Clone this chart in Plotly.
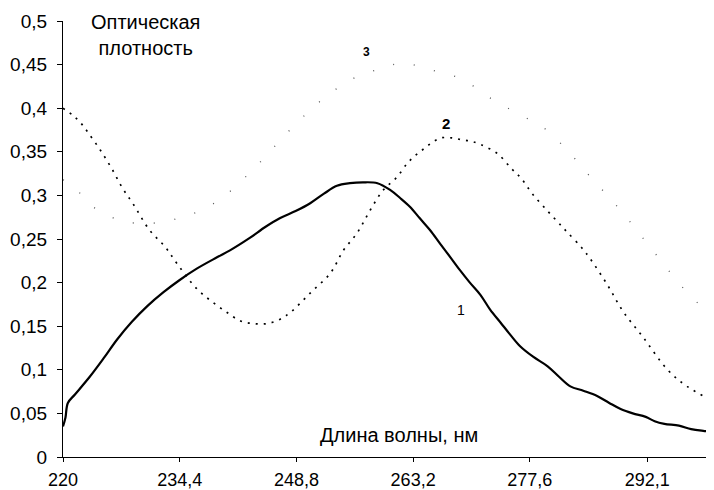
import plotly.graph_objects as go

# Curve 1 (solid)
wl1 = [220.0, 220.3, 220.6, 221.5, 223.3, 225.0, 226.7, 228.5, 230.4, 232.4, 234.4, 236.5, 239.0,
       240.6, 243.0, 245.0, 246.8, 248.7, 250.5, 252.2, 253.8, 255.4, 257.0, 258.8, 260.4, 261.6,
       262.8, 264.0, 265.3, 266.5, 267.8, 269.0, 270.2, 271.5, 272.7, 274.0, 275.2, 276.4, 278.0,
       279.8, 281.2, 282.6, 284.2, 285.9, 287.4, 288.8, 290.3, 291.9, 293.0, 294.2, 296.0, 297.5,
       299.0, 300.2]
od1 = [0.035, 0.045, 0.062, 0.072, 0.092, 0.113, 0.135, 0.155, 0.173, 0.189, 0.203, 0.216, 0.229,
       0.237, 0.251, 0.264, 0.274, 0.282, 0.291, 0.302, 0.311, 0.314, 0.315, 0.314, 0.306, 0.297,
       0.287, 0.274, 0.260, 0.245, 0.229, 0.214, 0.200, 0.186, 0.169, 0.154, 0.140, 0.127, 0.115,
       0.104, 0.092, 0.081, 0.076, 0.070, 0.062, 0.055, 0.050, 0.046, 0.041, 0.038, 0.036, 0.032,
       0.030, 0.029]

# Curve 2 (dotted)
wl2 = [220.0, 221.2, 222.2, 223.1, 224.6, 226.0, 227.3, 228.6, 230.7, 232.6, 234.2, 236.5, 238.4,
       240.2, 241.9, 243.5, 245.2, 246.8, 248.2, 250.5, 253.0, 254.6, 256.3, 257.9, 259.5, 261.2,
       262.5, 263.5, 264.6, 265.6, 266.7, 267.9, 269.1, 270.4, 271.6, 273.6, 275.3, 276.5, 277.9,
       279.8, 281.4, 282.2, 284.0, 285.0, 287.2, 289.1, 291.6, 294.6, 297.0, 300.2]
od2 = [0.400, 0.392, 0.383, 0.372, 0.352, 0.331, 0.309, 0.291, 0.260, 0.241, 0.220, 0.193, 0.178,
       0.166, 0.156, 0.153, 0.153, 0.158, 0.167, 0.188, 0.211, 0.237, 0.257, 0.283, 0.306, 0.321,
       0.337, 0.346, 0.354, 0.361, 0.366, 0.366, 0.364, 0.362, 0.358, 0.348, 0.331, 0.320, 0.302,
       0.282, 0.266, 0.258, 0.240, 0.228, 0.197, 0.167, 0.137, 0.100, 0.081, 0.064]

# Curve 3 (faint, sparse dots)
wl3 = [220.0, 221.5, 223.7, 225.8, 227.4, 230.0, 232.8, 234.8, 236.9, 240.0, 244.0, 248.0, 252.0,
       256.0, 259.9, 261.7, 264.0, 266.5, 269.1, 273.0, 276.9, 279.1, 282.1, 285.0, 288.6, 292.5,
       296.7, 300.2]
od3 = [0.318, 0.308, 0.287, 0.276, 0.270, 0.268, 0.270, 0.276, 0.282, 0.300, 0.335, 0.375, 0.410,
       0.435, 0.447, 0.452, 0.448, 0.441, 0.434, 0.410, 0.390, 0.379, 0.353, 0.322, 0.285, 0.240,
       0.192, 0.160]

x_ticks = [220, 234.4, 248.8, 263.2, 277.6, 292.1]
x_tick_text = ["220", "234,4", "248,8", "263,2", "277,6", "292,1"]
y_ticks = [0, 0.05, 0.1, 0.15, 0.2, 0.25, 0.3, 0.35, 0.4, 0.45, 0.5]
y_tick_text = ["0", "0,05", "0,1", "0,15", "0,2", "0,25", "0,3", "0,35", "0,4", "0,45", "0,5"]

FONT = "Liberation Sans, Arial, sans-serif"

fig = go.Figure()
fig.add_trace(go.Scatter(x=wl3, y=od3, mode="lines", line=dict(color="#555555", width=1.3, dash="1px,20px"),
                         line_shape="spline", showlegend=False, hoverinfo="skip"))
fig.add_trace(go.Scatter(x=wl2, y=od2, mode="lines", line=dict(color="black", width=1.7, dash="2px,6px"),
                         line_shape="spline", showlegend=False))
fig.add_trace(go.Scatter(x=wl1, y=od1, mode="lines", line=dict(color="black", width=2.2),
                         line_shape="spline", showlegend=False))

# page body has an 8px margin, so the figure is sized to the visible window area
fig.update_layout(
    width=706, height=482,
    margin=dict(l=55, r=1, t=13, b=33),
    paper_bgcolor="white", plot_bgcolor="white",
    font=dict(family=FONT, color="black", size=19),
    xaxis=dict(range=[220, 300.2], tickvals=x_ticks, ticktext=x_tick_text, showgrid=False,
               zeroline=False, showline=True, linecolor="black", linewidth=1.2, automargin=False,
               ticks="outside", ticklen=4, tickcolor="black", tickfont=dict(size=18),
               ticklabelstandoff=2),
    yaxis=dict(range=[0, 0.5], tickvals=y_ticks, ticktext=y_tick_text, showgrid=False,
               zeroline=False, showline=True, linecolor="black", linewidth=1.2, automargin=False,
               ticks="outside", ticklen=5, tickcolor="black", tickfont=dict(size=19),
               ticklabelstandoff=6),
    annotations=[
        dict(text="Оптическая<br>плотность", xref="paper", yref="paper", x=(145 - 63) / 650, y=0.968,
             xanchor="center", yanchor="middle", showarrow=False, font=dict(size=20), align="center"),
        dict(text="Длина волны, нм", xref="x", yref="y", x=261.4, y=0.025, xanchor="center",
             yanchor="middle", showarrow=False, font=dict(size=20)),
        dict(text="<b>3</b>", xref="x", yref="y", x=257.4, y=0.4645, showarrow=False, font=dict(size=12)),
        dict(text="<b>2</b>", xref="x", yref="y", x=267.2, y=0.382, showarrow=False, font=dict(size=15)),
        dict(text="1", xref="x", yref="y", x=269.1, y=0.169, showarrow=False, font=dict(size=14)),
    ],
)

fig.write_html("out.html")
